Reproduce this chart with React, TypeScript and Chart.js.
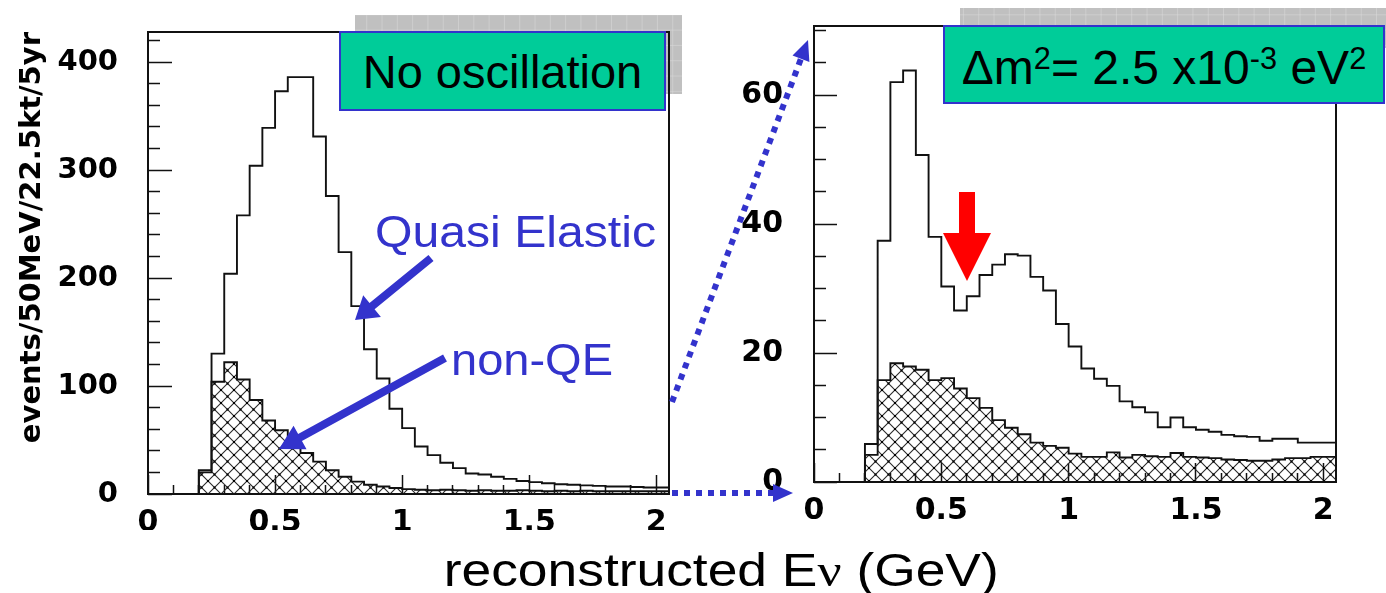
import React, { useEffect, useRef } from 'react';
import { Chart, registerables } from 'chart.js';

Chart.register(...registerables);

// ---------------- data ----------------
const BIN_START = 0.2;
const BIN_WIDTH = 0.05;
const X_MIN = 0;
const X_MAX = 2.05;
const X_TICKS = [0, 0.5, 1, 1.5, 2];
const X_TICK_LABELS = ['0', '0.5', '1', '1.5', '2'];
const X_MINOR_TICKS = [0.1, 0.2, 0.3, 0.4, 0.6, 0.7, 0.8, 0.9, 1.1, 1.2, 1.3, 1.4, 1.6, 1.7, 1.8, 1.9];

const LEFT_Y_TICKS = [0, 100, 200, 300, 400];
const LEFT_Y_MINOR = [20, 40, 60, 80, 120, 140, 160, 180, 220, 240, 260, 280, 320, 340, 360, 380, 420];
const RIGHT_Y_TICKS = [0, 20, 40, 60];
const RIGHT_Y_MINOR = [5, 10, 15, 25, 30, 35, 45, 50, 55, 65, 70];

// No oscillation: all events and non-QE part (events / 50 MeV bin, bins from 0.20 GeV)
const NOOSC_TOTAL = [22, 130, 204, 258, 304, 339, 373, 386, 386, 331, 276, 224, 174, 134, 107, 79, 61, 44, 36, 29, 24, 19, 18, 16, 14, 12, 11, 10, 9, 8.5, 8, 7.5, 7, 7, 6.5, 6, 6];
const NOOSC_NONQE = [20, 104, 122, 106, 87, 68, 59, 47, 38, 30, 22, 16, 11.5, 8.5, 7, 5.5, 4.5, 4, 3.5, 4, 3.5, 3, 3.5, 3, 3, 3.5, 3, 2.5, 3, 2.5, 3, 2.5, 2.5, 2.5, 2.5, 2.5, 2.5];
// Oscillated, dm2 = 2.5e-3 eV2
const OSC_TOTAL = [5.9, 37.4, 62, 63.8, 50.7, 38, 30.3, 26.6, 28.8, 32.1, 33.7, 35.3, 35.1, 31.8, 29.7, 24.5, 21, 17.6, 16, 14.9, 12.5, 11.6, 10.8, 8.5, 10, 8.5, 8.1, 7.8, 7.3, 7.1, 7.0, 6.4, 6.7, 6.7, 6.1, 6.1, 6.1];
const OSC_NONQE = [4.2, 15.8, 18.4, 17.9, 17.4, 15.8, 16.1, 14.5, 13, 11.5, 9.6, 8.4, 7.4, 6.1, 5.6, 5.3, 4.4, 3.9, 3.9, 4.6, 3.8, 4.2, 4.0, 3.9, 4.5, 3.9, 3.8, 3.7, 3.5, 3.4, 3.3, 3.3, 3.5, 3.7, 3.7, 3.9, 3.9];

const Y_TITLE = 'events/50MeV/22.5kt/5yr';

// ---------------- helpers ----------------
// points at bin left edges + closing point at last bin's right edge
function histPoints(values: number[]) {
  const pts: { x: number; y: number }[] = [{ x: BIN_START, y: 0 }];
  values.forEach((v, i) => pts.push({ x: BIN_START + i * BIN_WIDTH, y: v }));
  pts.push({ x: BIN_START + values.length * BIN_WIDTH, y: values[values.length - 1] });
  return pts;
}

function makeHatch(ctx: CanvasRenderingContext2D) {
  const n = 13;
  const c = document.createElement('canvas');
  c.width = n;
  c.height = n;
  const g = c.getContext('2d')!;
  g.strokeStyle = '#2a2a2a';
  g.lineWidth = 1.1;
  g.beginPath();
  g.moveTo(-1, -1);
  g.lineTo(n + 1, n + 1);
  g.moveTo(n + 1, -1);
  g.lineTo(-1, n + 1);
  g.stroke();
  g.fillStyle = '#000';
  g.fillRect(n / 2 - 1, n / 2 - 1, 2, 2);
  g.fillRect(-1, -1, 2, 2);
  g.fillRect(n - 1, -1, 2, 2);
  g.fillRect(-1, n - 1, 2, 2);
  g.fillRect(n - 1, n - 1, 2, 2);
  return ctx.createPattern(c, 'repeat');
}

const framePlugin = {
  id: 'frame',
  afterDatasetsDraw(chart: any) {
    const { ctx, chartArea: a } = chart;
    ctx.save();
    ctx.strokeStyle = '#111';
    ctx.lineWidth = 2;
    ctx.strokeRect(a.left, a.top, a.right - a.left, a.bottom - a.top);
    ctx.restore();
  },
};

const boldFont = (size: number) => ({ family: 'DejaVu Sans', weight: 'bold' as const, size });

function zeroPad(s: any) {
  s.paddingTop = 0;
  s.paddingBottom = 0;
  s.paddingLeft = 0;
  s.paddingRight = 0;
}

type PanelProps = {
  left: number;
  top: number;
  width: number;
  height: number;
  padTop: number;
  padRight: number;
  yAxisWidth: number;
  xAxisHeight: number;
  yMax: number;
  yTicks: number[];
  yMinor: number[];
  yFont: number;
  yPad: number;
  yMajorLen: number;
  yMinorLen: number;
  total: number[];
  nonQE: number[];
  yTitle?: string;
};

function Panel(p: PanelProps) {
  const ref = useRef<HTMLCanvasElement>(null);
  useEffect(() => {
    const canvas = ref.current!;
    const ctx = canvas.getContext('2d')!;
    const hatch = makeHatch(ctx);
    const chart = new Chart(ctx, {
      type: 'line',
      data: {
        datasets: [
          {
            label: 'non-QE',
            data: histPoints(p.nonQE),
            stepped: 'before',
            borderColor: '#111',
            borderWidth: 1.9,
            pointRadius: 0,
            fill: 'origin',
            backgroundColor: hatch as any,
            xAxisID: 'x',
            yAxisID: 'y',
          },
          {
            label: 'total',
            data: histPoints(p.total),
            stepped: 'before',
            borderColor: '#111',
            borderWidth: 1.9,
            pointRadius: 0,
            fill: false,
            xAxisID: 'x',
            yAxisID: 'y',
          },
        ],
      },
      options: {
        animation: false,
        responsive: false,
        maintainAspectRatio: false,
        events: [],
        layout: { padding: { left: 0, top: p.padTop, right: p.padRight, bottom: 0 } },
        plugins: { legend: { display: false }, tooltip: { enabled: false } },
        scales: {
          x: {
            type: 'linear',
            axis: 'x',
            position: 'bottom',
            min: X_MIN,
            max: X_MAX,
            weight: 10,
            afterBuildTicks: (s: any) => {
              s.ticks = X_TICKS.map((value) => ({ value }));
            },
            afterFit: (s: any) => {
              s.height = p.xAxisHeight;
              zeroPad(s);
            },
            grid: { drawOnChartArea: false, drawTicks: true, tickLength: -19, tickColor: '#111', tickWidth: 1.5 },
            border: { display: false },
            ticks: {
              autoSkip: false,
              maxRotation: 0,
              padding: 30,
              color: '#000',
              font: boldFont(30),
              callback: (_v: any, i: number) => X_TICK_LABELS[i],
            },
          },
          xMinor: {
            type: 'linear',
            axis: 'x',
            position: 'bottom',
            min: X_MIN,
            max: X_MAX,
            weight: 0,
            afterBuildTicks: (s: any) => {
              s.ticks = X_MINOR_TICKS.map((value) => ({ value }));
            },
            afterFit: (s: any) => {
              s.height = 0;
              zeroPad(s);
            },
            grid: { drawOnChartArea: false, drawTicks: true, tickLength: -9, tickColor: '#111', tickWidth: 1.5 },
            border: { display: false },
            ticks: { display: false },
          },
          y: {
            type: 'linear',
            axis: 'y',
            position: 'left',
            min: 0,
            max: p.yMax,
            weight: 10,
            afterBuildTicks: (s: any) => {
              s.ticks = p.yTicks.map((value) => ({ value }));
            },
            afterFit: (s: any) => {
              s.width = p.yAxisWidth;
              zeroPad(s);
            },
            grid: { drawOnChartArea: false, drawTicks: true, tickLength: -p.yMajorLen, tickColor: '#111', tickWidth: 1.5 },
            border: { display: false },
            ticks: {
              autoSkip: false,
              padding: p.yPad,
              color: '#000',
              font: boldFont(p.yFont),
              callback: (v: any) => String(v),
            },
            title: p.yTitle
              ? {
                  display: true,
                  text: p.yTitle,
                  align: 'end',
                  color: '#000',
                  font: boldFont(29),
                  padding: { top: 15.5, bottom: 0 },
                }
              : { display: false },
          },
          yMinor: {
            type: 'linear',
            axis: 'y',
            position: 'left',
            min: 0,
            max: p.yMax,
            weight: 0,
            afterBuildTicks: (s: any) => {
              s.ticks = p.yMinor.map((value) => ({ value }));
            },
            afterFit: (s: any) => {
              s.width = 0;
              zeroPad(s);
            },
            grid: { drawOnChartArea: false, drawTicks: true, tickLength: -p.yMinorLen, tickColor: '#111', tickWidth: 1.5 },
            border: { display: false },
            ticks: { display: false },
          },
        } as any,
      },
      plugins: [framePlugin],
    });
    return () => chart.destroy();
  }, []);
  return (
    <canvas
      ref={ref}
      width={p.width}
      height={p.height}
      style={{ position: 'absolute', left: p.left, top: p.top, width: p.width, height: p.height }}
    />
  );
}

function arrowPoly(x1: number, y1: number, x2: number, y2: number, shaftW: number, headLen: number, headW: number) {
  const dx = x2 - x1;
  const dy = y2 - y1;
  const len = Math.hypot(dx, dy);
  const ux = dx / len;
  const uy = dy / len;
  const nx = -uy;
  const ny = ux;
  const bx = x2 - ux * headLen;
  const by = y2 - uy * headLen;
  const pts = [
    [x1 + (nx * shaftW) / 2, y1 + (ny * shaftW) / 2],
    [bx + (nx * shaftW) / 2, by + (ny * shaftW) / 2],
    [bx + (nx * headW) / 2, by + (ny * headW) / 2],
    [x2, y2],
    [bx - (nx * headW) / 2, by - (ny * headW) / 2],
    [bx - (nx * shaftW) / 2, by - (ny * shaftW) / 2],
    [x1 - (nx * shaftW) / 2, y1 - (ny * shaftW) / 2],
  ];
  return pts.map((q) => q.join(',')).join(' ');
}

function dottedArrow(x1: number, y1: number, x2: number, y2: number, headLen: number, headW: number) {
  const dx = x2 - x1;
  const dy = y2 - y1;
  const len = Math.hypot(dx, dy);
  const ux = dx / len;
  const uy = dy / len;
  const nx = -uy;
  const ny = ux;
  const bx = x2 - ux * headLen;
  const by = y2 - uy * headLen;
  const head = [
    [bx + (nx * headW) / 2, by + (ny * headW) / 2],
    [x2, y2],
    [bx - (nx * headW) / 2, by - (ny * headW) / 2],
  ]
    .map((q) => q.join(','))
    .join(' ');
  return { line: { x1, y1, x2: bx, y2: by }, head };
}

const BLUE = '#3333cc';
const GREEN = '#00cc99';
const SANS = '"Liberation Sans", Arial, Helvetica, sans-serif';

const supStyle: React.CSSProperties = { fontSize: '0.64em', position: 'relative', top: -15, verticalAlign: 'baseline' };

export default function App() {
  const d1 = dottedArrow(672, 402, 808, 40, 20, 18);
  const d2 = dottedArrow(672, 493, 793, 493, 20, 18);
  return (
    <div
      style={{
        position: 'fixed',
        left: 0,
        top: 0,
        width: 1386,
        height: 593,
        background: '#fff',
        overflow: 'hidden',
        fontFamily: SANS,
      }}
    >
      <svg width={1386} height={593} style={{ position: 'absolute', left: 0, top: 0 }}>
        <defs>
          <pattern id="greygrid" width={15.3} height={15.3} patternUnits="userSpaceOnUse">
            <rect width={15.3} height={15.3} fill="#c0c0c0" />
            <path d="M15.3 0 V15.3 M0 15.3 H15.3" stroke="#dcdcdc" strokeWidth={1} fill="none" />
          </pattern>
        </defs>
        <rect x={355} y={15} width={327} height={79} fill="url(#greygrid)" />
        <rect x={960} y={8} width={426} height={40} fill="url(#greygrid)" />
      </svg>

      <Panel
        left={0}
        top={0}
        width={690}
        height={530}
        padTop={32}
        padRight={21}
        yAxisWidth={148}
        xAxisHeight={36}
        yMax={427.8}
        yTicks={LEFT_Y_TICKS}
        yMinor={LEFT_Y_MINOR}
        yFont={29}
        yPad={54}
        yMajorLen={24}
        yMinorLen={12}
        total={NOOSC_TOTAL}
        nonQE={NOOSC_NONQE}
        yTitle={Y_TITLE}
      />
      <Panel
        left={700}
        top={0}
        width={686}
        height={530}
        padTop={26}
        padRight={50}
        yAxisWidth={114}
        xAxisHeight={48}
        yMax={70.7}
        yTicks={RIGHT_Y_TICKS}
        yMinor={RIGHT_Y_MINOR}
        yFont={30}
        yPad={54}
        yMajorLen={23}
        yMinorLen={12}
        total={OSC_TOTAL}
        nonQE={OSC_NONQE}
      />

      <svg width={1386} height={593} style={{ position: 'absolute', left: 0, top: 0 }}>
        <polygon points={arrowPoly(431, 258, 355, 320, 8, 22, 28)} fill={BLUE} />
        <polygon points={arrowPoly(445, 358, 279, 449, 8, 24, 27)} fill={BLUE} />
        <polygon points="959,192 975,192 975,233 991,233 967,281 943,233 959,233" fill="#ff0000" />
        <line {...d1.line} stroke={BLUE} strokeWidth={6} strokeDasharray="6 6" />
        <polygon points={d1.head} fill={BLUE} />
        <line {...d2.line} stroke={BLUE} strokeWidth={6} strokeDasharray="6 6" />
        <polygon points={d2.head} fill={BLUE} />
      </svg>

      <div
        style={{
          position: 'absolute',
          left: 339,
          top: 31,
          width: 327,
          height: 80,
          boxSizing: 'border-box',
          background: GREEN,
          border: `2px solid ${BLUE}`,
          display: 'flex',
          alignItems: 'center',
          justifyContent: 'center',
          fontSize: 47,
          color: '#000',
          whiteSpace: 'nowrap',
        }}
      >
        No oscillation
      </div>
      <div
        style={{
          position: 'absolute',
          left: 943,
          top: 25,
          width: 442,
          height: 79,
          boxSizing: 'border-box',
          background: GREEN,
          border: `2px solid ${BLUE}`,
          display: 'flex',
          alignItems: 'center',
          justifyContent: 'center',
          fontSize: 48,
          color: '#000',
          whiteSpace: 'nowrap',
          paddingTop: 6,
        }}
      >
        <span>
          Δm<span style={supStyle}>2</span>= 2.5 x10<span style={supStyle}>-3</span> eV<span style={supStyle}>2</span>
        </span>
      </div>

      <div
        style={{
          position: 'absolute',
          left: 375,
          top: 209,
          fontSize: 45,
          lineHeight: 1,
          color: BLUE,
          whiteSpace: 'nowrap',
          transform: 'scaleX(1.07)',
          transformOrigin: 'left center',
        }}
      >
        Quasi Elastic
      </div>
      <div
        style={{
          position: 'absolute',
          left: 451,
          top: 337,
          fontSize: 45,
          lineHeight: 1,
          color: BLUE,
          whiteSpace: 'nowrap',
          transform: 'scaleX(1.045)',
          transformOrigin: 'left center',
        }}
      >
        non-QE
      </div>

      <div
        style={{
          position: 'absolute',
          left: 0,
          width: 1442,
          top: 547,
          fontSize: 46,
          lineHeight: 1,
          color: '#000',
          textAlign: 'center',
          whiteSpace: 'nowrap',
        }}
      >
        <span style={{ display: 'inline-block', transform: 'scaleX(1.16)' }}>
          reconstructed E<span style={{ fontFamily: '"Liberation Serif", serif' }}>ν</span> (GeV)
        </span>
      </div>
    </div>
  );
}
